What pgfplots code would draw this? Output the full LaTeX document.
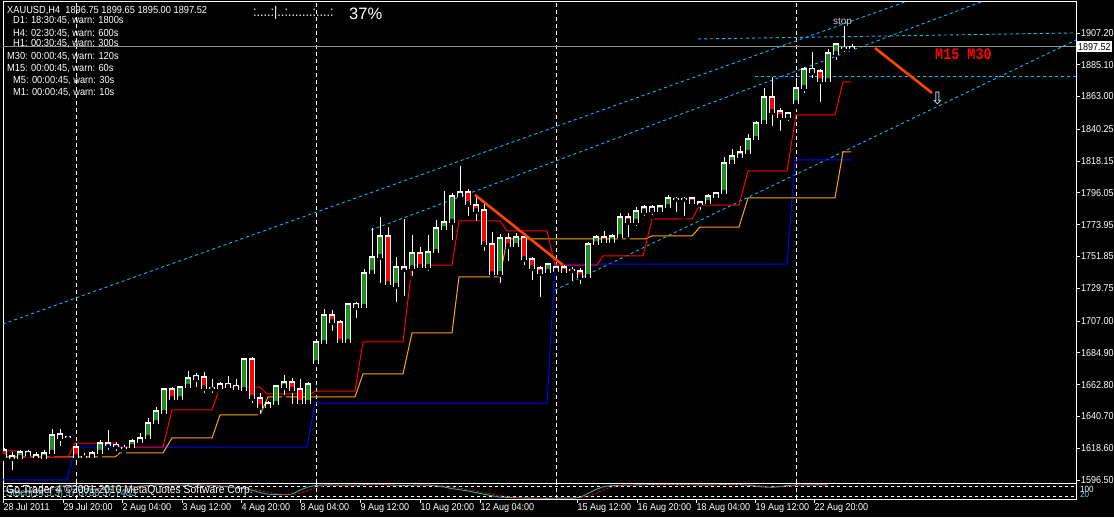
\documentclass[border=0pt]{standalone}
\usepackage{pgfplots}
\pgfplotsset{compat=1.18}
\usepackage{pgfplotstable}
\usepackage{fontspec}
\setmainfont{Liberation Sans}
\newfontfamily\mt[FakeStretch=0.9]{Liberation Sans}
\newfontfamily\monob[FakeStretch=0.84]{Liberation Mono}
\newfontfamily\dejavu{DejaVu Sans}
\definecolor{mtgreen}{RGB}{34,139,34}
\definecolor{mtcyan}{RGB}{0,191,255}
\definecolor{mtorange}{RGB}{255,165,0}
\definecolor{mtblue}{RGB}{0,0,255}
\definecolor{orred}{RGB}{255,69,0}
\definecolor{lsgreen}{RGB}{32,178,170}
\definecolor{bidgrey}{RGB}{140,145,150}
\definecolor{stochtxt}{RGB}{130,200,215}

\pgfplotstableread{
x o h l c
4 1617.4 1618.7 1611.1 1612.5
12 1613.2 1616.0 1602.1 1611.8
20 1611.8 1617.4 1610.4 1616.0
28 1616.0 1617.4 1610.4 1613.9
36 1613.9 1616.0 1609.0 1612.5
44 1611.8 1617.4 1609.0 1615.3
52 1615.3 1631.9 1613.9 1627.8
60 1628.5 1631.9 1618.7 1625.7
68 1626.2 1627.1 1622.9 1626.2
76 1619.4 1622.2 1605.5 1612.5
84 1612.8 1615.3 1610.4 1612.8
92 1612.5 1616.7 1611.1 1615.3
100 1615.3 1624.3 1613.2 1622.2
108 1622.2 1631.2 1616.0 1620.8
116 1620.8 1622.9 1615.3 1620.1
124 1618.7 1620.8 1615.3 1618.7
132 1619.4 1625.0 1618.7 1623.6
140 1622.9 1629.2 1622.2 1625.7
148 1625.7 1639.6 1624.3 1636.1
156 1636.1 1647.2 1634.7 1644.5
164 1643.1 1660.4 1642.4 1659.7
172 1659.7 1661.1 1650.7 1652.8
180 1652.8 1661.8 1652.1 1661.1
188 1661.1 1672.3 1660.4 1667.4
196 1666.7 1670.9 1659.7 1668.8
204 1668.1 1671.6 1655.6 1660.4
212 1660.4 1666.7 1655.6 1660.4
220 1660.4 1664.6 1657.0 1663.2
228 1663.2 1668.8 1660.4 1661.1
236 1661.8 1666.7 1659.0 1659.7
244 1659.0 1681.3 1657.7 1680.6
252 1680.6 1682.0 1648.6 1653.5
260 1653.5 1657.0 1641.0 1647.2
268 1647.2 1651.4 1645.2 1650.0
276 1649.3 1662.5 1648.6 1661.8
284 1661.1 1669.5 1654.2 1664.6
292 1664.6 1667.4 1647.9 1659.0
300 1659.7 1666.7 1646.5 1650.0
308 1650.0 1664.6 1648.6 1663.2
316 1677.8 1693.8 1676.4 1692.4
324 1691.7 1715.3 1691.0 1711.2
332 1711.2 1714.6 1698.7 1706.3
340 1706.3 1707.7 1691.7 1692.4
348 1692.4 1719.5 1691.7 1718.8
356 1718.8 1720.2 1707.7 1716.7
364 1716.7 1743.1 1713.9 1740.4
372 1740.4 1771.6 1737.6 1751.5
380 1751.5 1779.3 1732.0 1766.1
388 1766.1 1772.3 1730.6 1732.7
396 1731.3 1751.5 1718.8 1744.5
404 1744.5 1777.9 1723.0 1743.1
412 1743.8 1766.8 1736.9 1754.3
420 1754.3 1758.4 1743.1 1744.5
428 1744.5 1766.8 1740.4 1755.0
436 1755.0 1777.2 1752.2 1771.6
444 1770.9 1797.3 1768.2 1775.8
452 1775.8 1796.0 1761.9 1793.9
460 1793.9 1814.7 1793.9 1796.7
468 1796.7 1798.7 1778.6 1788.3
476 1787.6 1794.6 1775.1 1783.5
484 1784.2 1789.7 1754.3 1760.5
492 1760.5 1768.9 1738.3 1739.7
500 1739.7 1767.5 1732.0 1764.7
508 1764.7 1768.2 1747.3 1759.1
516 1759.1 1768.2 1756.4 1765.4
524 1765.4 1766.1 1744.5 1750.1
532 1750.1 1751.5 1734.1 1743.8
540 1743.8 1745.2 1722.3 1740.4
548 1741.1 1747.3 1738.3 1746.6
556 1741.8 1745.2 1741.1 1744.5
564 1744.5 1745.9 1739.7 1741.1
572 1742.4 1744.5 1733.4 1742.4
580 1741.8 1743.8 1731.3 1737.6
588 1737.6 1761.9 1736.2 1760.5
596 1760.5 1766.8 1758.4 1765.4
604 1765.4 1769.6 1760.5 1761.9
612 1761.9 1767.5 1761.2 1766.1
620 1765.4 1782.1 1764.7 1779.3
628 1779.3 1782.1 1764.0 1775.8
636 1775.8 1786.2 1771.6 1783.5
644 1782.8 1787.6 1778.6 1786.2
652 1786.2 1787.6 1779.3 1783.5
660 1783.5 1787.6 1782.1 1786.9
668 1786.2 1794.6 1784.8 1792.5
676 1791.8 1793.2 1781.4 1791.8
684 1791.8 1793.2 1778.6 1791.8
692 1792.5 1793.2 1787.6 1789.0
700 1789.7 1789.7 1782.8 1788.3
708 1789.0 1795.3 1789.0 1793.9
716 1793.2 1796.7 1791.1 1796.0
724 1796.0 1821.0 1794.6 1816.8
732 1816.8 1826.5 1813.3 1821.7
740 1821.0 1828.6 1818.9 1824.5
748 1823.8 1837.0 1821.0 1833.5
756 1833.5 1846.0 1830.7 1844.6
764 1844.6 1868.9 1841.8 1862.7
772 1862.7 1876.6 1841.1 1852.3
780 1853.0 1855.0 1837.7 1848.8
788 1848.8 1852.3 1844.6 1851.6
796 1858.5 1875.9 1855.7 1868.9
804 1868.9 1883.5 1864.1 1882.1
812 1882.1 1894.0 1874.5 1880.1
820 1880.8 1882.1 1857.8 1873.8
828 1873.8 1896.0 1871.0 1893.3
836 1892.6 1900.2 1887.0 1899.5
844 1897.0 1912.0 1892.6 1896.7
852 1896.75 1899.65 1895.00 1897.52
}\candles

\pgfplotstableread{
x m s
4 50 50
12 45 48
20 40 45
28 45 43
36 50 45
44 55 50
52 70 58
60 80 68
68 85 78
76 80 82
84 70 78
92 60 70
100 65 65
108 75 67
116 80 73
124 78 78
132 75 78
140 80 78
148 85 80
156 88 84
164 90 88
172 88 89
180 86 88
188 88 87
196 90 88
204 88 89
212 85 88
220 80 84
228 75 80
236 68 74
244 65 69
252 55 63
260 40 53
268 30 42
276 28 33
284 27 28
292 30 28
300 55 37
308 75 53
316 85 72
324 88 83
332 88 87
340 86 87
348 88 87
356 87 87
364 90 88
372 92 90
380 91 91
388 88 90
396 86 88
404 85 86
412 86 86
420 88 86
428 87 87
436 82 86
444 75 81
452 65 74
460 58 66
468 50 58
476 40 49
484 30 40
492 20 30
500 12 21
508 10 14
516 8 10
524 6 8
532 5 6
540 5 5
548 4 5
556 5 5
564 6 5
572 5 5
580 10 7
588 35 17
596 60 35
604 78 58
612 84 74
620 86 83
628 87 86
636 88 87
644 89 88
652 90 89
660 90 90
668 91 90
676 90 90
684 90 90
692 89 90
700 88 89
708 88 88
716 89 88
724 90 89
732 91 90
740 90 90
748 86 89
756 80 85
764 75 80
772 73 76
780 78 75
788 85 79
796 87 83
804 88 87
812 88 88
820 89 88
828 88 88
}\stoch

\begin{document}
\begin{tikzpicture}
\useasboundingbox (0pt,0pt) rectangle (1114pt,517pt);
\fill[black] (0pt,0pt) rectangle (1114pt,517pt);

% ---------------- main price panel ----------------
\begin{axis}[
  at={(3pt,34pt)}, anchor=south west, scale only axis,
  width=1073pt, height=481pt,
  xmin=3, xmax=1076, ymin=1594.4, ymax=1928.7,
  axis line style={white, line width=1pt},
  xtick=\empty,
  ytick={1596.50,1618.60,1640.70,1662.80,1684.90,1707.00,1729.75,1751.85,1773.95,1796.05,1818.15,1840.25,1863.00,1885.10,1907.20},
  yticklabels={1596.50,1618.60,1640.70,1662.80,1684.90,1707.00,1729.75,1751.85,1773.95,1796.05,1818.15,1840.25,1863.00,1885.10,1907.20},
  ytick pos=right, yticklabel pos=right,
  tick align=outside, major tick length=4pt,
  tick style={white, line width=0.8pt},
  yticklabel style={text=white, font=\mt\fontsize{10}{10}\selectfont, anchor=west, inner sep=0pt, xshift=1pt},
]
% week separators
\addplot[white, line width=0.8pt, dash pattern=on 4pt off 3pt, forget plot] coordinates {(76,1594.4) (76,1928.7)};
\addplot[white, line width=0.8pt, dash pattern=on 4pt off 3pt, forget plot] coordinates {(316,1594.4) (316,1928.7)};
\addplot[white, line width=0.8pt, dash pattern=on 4pt off 3pt, forget plot] coordinates {(556,1594.4) (556,1928.7)};
\addplot[white, line width=0.8pt, dash pattern=on 4pt off 3pt, forget plot] coordinates {(796,1594.4) (796,1928.7)};

% trend channel lines
\addplot[mtcyan, line width=0.9pt, dash pattern=on 3pt off 3pt] coordinates {(3,1704.9) (905,1928.7)};
\addplot[mtcyan, line width=0.9pt, dash pattern=on 3pt off 3pt] coordinates {(371,1770.2) (981,1928.7)};
\addplot[mtcyan, line width=0.9pt, dash pattern=on 3pt off 3pt] coordinates {(555,1728.5) (1076,1902.3)};
\addplot[mtcyan, line width=0.9pt, dash pattern=on 3pt off 3pt] coordinates {(698,1903.0) (1076,1907.2)};
\addplot[mtcyan, line width=0.9pt, dash pattern=on 3pt off 3pt] coordinates {(755,1877.3) (1076,1877.3)};

% bid line
\addplot[bidgrey, line width=0.9pt] coordinates {(3,1897.52) (1076,1897.52)};

% indicator step lines
\addplot[mtblue, line width=1pt] coordinates {
(3,1596.5) (67,1596.5) (75,1619.4) (307,1619.4) (315,1650.0) (547,1650.0)
(555,1746.6) (787,1746.6) (795,1818.9) (851,1818.9)};
\addplot[mtorange, line width=1pt] coordinates {
(3,1612.5) (115,1612.5) (120,1615.3) (163,1615.3) (172,1625.7) (212,1625.7)
(220,1641.7) (260,1641.7) (268,1654.2) (355,1654.2) (363,1670.2) (403,1670.2)
(412,1698.7) (452,1698.7) (459,1737.6) (500,1737.6) (507,1764.0) (645,1764.0)
(652,1766.1) (692,1766.1) (700,1772.3) (739,1772.3) (748,1792.5) (835,1792.5)
(843,1824.5) (851,1824.5)};
\addplot[red, line width=1pt] coordinates {
(3,1616.7) (19,1616.7) (21,1612.5) (68,1612.5) (75,1622.2) (115,1622.2)
(120,1619.4) (163,1619.4) (172,1645.2) (212,1645.2) (220,1661.1) (260,1661.1)
(267,1656.3) (311,1656.3) (315,1658.3) (355,1658.3) (363,1692.4) (403,1692.4)
(412,1745.9) (452,1745.9) (459,1776.5) (500,1776.5) (507,1769.6) (547,1769.6)
(555,1745.9) (597,1745.9) (603,1752.2) (643,1752.2) (652,1777.9) (692,1777.9)
(700,1787.6) (739,1787.6) (748,1811.3) (787,1811.3) (796,1850.2) (835,1850.2)
(843,1873.1) (851,1873.1)};

% candles: wicks
\addplot[only marks, mark=none,
  error bars/.cd, y dir=plus, y explicit, error mark=none,
  error bar style={draw=white, solid, line width=1pt}]
  table[x=x, y=l, y error plus expr={\thisrow{h}-\thisrow{l}}] {\candles};
% candles: body outline
\addplot[only marks, mark=none,
  error bars/.cd, y dir=plus, y explicit, error mark=none,
  error bar style={draw=white, solid, line width=5.4pt}]
  table[x=x, y expr={min(\thisrow{o},\thisrow{c})-0.7}, y error plus expr={abs(\thisrow{c}-\thisrow{o})+1.4}] {\candles};
% bull bodies
\addplot[only marks, mark=none,
  restrict expr to domain={\thisrow{c}-\thisrow{o}}{1.5:1000},
  error bars/.cd, y dir=plus, y explicit, error mark=none,
  error bar style={draw=mtgreen, solid, line width=3.4pt}]
  table[x=x, y expr={\thisrow{o}+0.7}, y error plus expr={\thisrow{c}-\thisrow{o}-1.4}] {\candles};
% bear bodies
\addplot[only marks, mark=none,
  restrict expr to domain={\thisrow{o}-\thisrow{c}}{1.5:1000},
  error bars/.cd, y dir=plus, y explicit, error mark=none,
  error bar style={draw=red, solid, line width=3.4pt}]
  table[x=x, y expr={\thisrow{c}+0.7}, y error plus expr={\thisrow{o}-\thisrow{c}-1.4}] {\candles};

% manual trend lines
\addplot[orred, line width=2.6pt] coordinates {(475,1794.6) (563,1745.9)};
\addplot[orred, line width=2.6pt] coordinates {(875,1896.7) (932,1865.5)};
\end{axis}

% ---------------- stochastic sub panel ----------------
\begin{axis}[
  at={(3pt,18pt)}, anchor=south west, scale only axis,
  width=1073pt, height=16pt,
  xmin=3, xmax=1076, ymin=0, ymax=100,
  axis line style={white, line width=1pt},
  ytick=\empty,
  xtick={3,63,122,182,241,300,360,420,480,577,637,696,755,814},
  xticklabels={28 Jul 2011,29 Jul 20:00,2 Aug 04:00,3 Aug 12:00,4 Aug 20:00,8 Aug 04:00,9 Aug 12:00,10 Aug 20:00,12 Aug 04:00,15 Aug 12:00,16 Aug 20:00,18 Aug 04:00,19 Aug 12:00,22 Aug 20:00},
  xtick pos=bottom, tick align=outside, major tick length=4pt,
  tick style={white, line width=0.8pt},
  xticklabel style={text=white, font=\mt\fontsize{10}{10}\selectfont, anchor=north west, inner sep=0pt, xshift=0.5pt, yshift=-0.5pt},
]
\addplot[white, line width=0.6pt, dash pattern=on 3pt off 3pt] coordinates {(3,80) (1076,80)};
\addplot[white, line width=0.6pt, dash pattern=on 3pt off 3pt] coordinates {(3,20) (1076,20)};
\addplot[white, line width=0.8pt, dash pattern=on 4pt off 3pt] coordinates {(76,0) (76,100)};
\addplot[white, line width=0.8pt, dash pattern=on 4pt off 3pt] coordinates {(316,0) (316,100)};
\addplot[white, line width=0.8pt, dash pattern=on 4pt off 3pt] coordinates {(556,0) (556,100)};
\addplot[white, line width=0.8pt, dash pattern=on 4pt off 3pt] coordinates {(796,0) (796,100)};
\addplot[lsgreen, line width=0.9pt] table[x=x, y=m] {\stoch};
\addplot[red, line width=0.9pt, dash pattern=on 2pt off 2pt] table[x=x, y=s] {\stoch};
\end{axis}

% ---------------- texts ----------------
\begin{scope}[every node/.style={inner sep=0pt, text=white}]
\node[anchor=base west, font=\mt\fontsize{10.3}{10}\selectfont] at (7pt,503pt) {XAUUSD,H4\ \ 1896.75 1899.65 1895.00 1897.52};
\node[anchor=base west, font=\mt\fontsize{10.3}{10}\selectfont] at (13pt,493pt) {D1: 18:30:45, warn: 1800s};
\node[anchor=base west, font=\mt\fontsize{10.3}{10}\selectfont] at (13pt,480.5pt) {H4: 02:30:45, warn: 600s};
\node[anchor=base west, font=\mt\fontsize{10.3}{10}\selectfont] at (13pt,470pt) {H1: 00:30:45, warn: 300s};
\node[anchor=base west, font=\mt\fontsize{10.3}{10}\selectfont] at (7pt,457pt) {M30: 00:00:45, warn: 120s};
\node[anchor=base west, font=\mt\fontsize{10.3}{10}\selectfont] at (7pt,445pt) {M15: 00:00:45, warn: 60s};
\node[anchor=base west, font=\mt\fontsize{10.3}{10}\selectfont] at (13pt,433pt) {M5: 00:00:45, warn: 30s};
\node[anchor=base west, font=\mt\fontsize{10.3}{10}\selectfont] at (13pt,421.5pt) {M1: 00:00:45, warn: 10s};
\node[anchor=base west, font=\mt\fontsize{14}{14}\selectfont] at (253pt,500pt) {:....:|..:.......:....:};
\node[anchor=base west, font=\fontsize{16.5}{17}\selectfont] at (349pt,497pt) {37\%};
\node[anchor=base, font=\fontsize{10}{10}\selectfont, text={rgb,255:red,200;green,205;blue,215}] at (842.5pt,492pt) {stop};
\node[anchor=base west, font=\monob\bfseries\fontsize{16}{16}\selectfont, text=red] at (935pt,457pt) {M15 M30};
\node[font=\dejavu\fontsize{17}{17}\selectfont, text={rgb,255:red,220;green,230;blue,255}] at (937.5pt,418pt) {⇩};
\node[anchor=west, fill=white, text=black, inner xsep=1pt, minimum height=11pt, font=\mt\fontsize{10}{10}\selectfont] at (1077pt,470pt) {1897.52};
\node[anchor=base west, font=\mt\fontsize{10.5}{11}\selectfont, text=stochtxt] at (6pt,21pt) {Stoch(14,3,3) 37.8788 37.7483};
\node[anchor=base west, font=\mt\fontsize{11.5}{12}\selectfont] at (6pt,24pt) {Go Trader 4 ©2001-2010 MetaQuotes Software Corp.};
\node[anchor=base west, font=\mt\fontsize{9}{9}\selectfont] at (1080pt,25pt) {100};
\node[anchor=base west, font=\mt\fontsize{9}{9}\selectfont, text=stochtxt] at (1080pt,19.5pt) {20};
\end{scope}
\end{tikzpicture}
\end{document}
